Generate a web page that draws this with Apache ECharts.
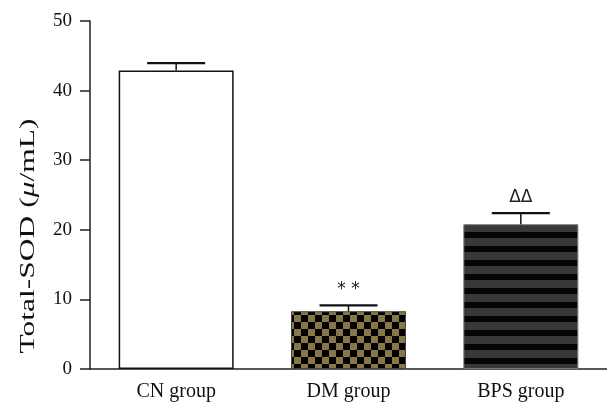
<!DOCTYPE html>
<html>
<head>
<meta charset="utf-8">
<script src="https://cdn.jsdelivr.net/npm/echarts@6/dist/echarts.min.js"></script>
<style>html,body{margin:0;padding:0;background:#fff;}#c{width:607px;height:409px;}</style>
</head>
<body>
<div id="c"></div>
<script>
const categories = ['CN group', 'DM group', 'BPS group'];
const means = [42.9, 8.3, 20.8];
const errors = [1.05, 0.85, 1.6];
const marks = ['', '* *', 'ΔΔ'];
const yTicks = [0, 10, 20, 30, 40, 50];

function checker() {
  const c = document.createElement('canvas');
  c.width = 14; c.height = 14;
  const g = c.getContext('2d');
  g.fillStyle = '#867745'; g.fillRect(0, 0, 14, 14);
  g.fillStyle = '#000'; g.fillRect(0, 0, 7, 7); g.fillRect(7, 7, 7, 7);
  return c;
}
function stripes() {
  const c = document.createElement('canvas');
  c.width = 4; c.height = 14;
  const g = c.getContext('2d');
  g.fillStyle = '#050505'; g.fillRect(0, 0, 4, 14);
  g.fillStyle = '#373838'; g.fillRect(0, 0, 4, 8);
  return c;
}
const fills = [
  { color: '#ffffff', borderColor: '#111', borderWidth: 1.5 },
  { color: { image: checker(), repeat: 'repeat' }, borderColor: '#444', borderWidth: 1 },
  { color: { image: stripes(), repeat: 'repeat' }, borderColor: '#777', borderWidth: 1 }
];

const chart = echarts.init(document.getElementById('c'), null, { renderer: 'canvas' });
const serif = 'Liberation Serif';
chart.setOption({
  animation: false,
  backgroundColor: '#fff',
  grid: { left: 90, top: 21, width: 519, height: 348, containLabel: false },
  xAxis: {
    type: 'category',
    data: categories,
    axisLine: { lineStyle: { color: '#222', width: 1.5 } },
    axisTick: { alignWithLabel: true, length: 9, lineStyle: { color: '#222', width: 1.5 } },
    axisLabel: { color: '#111', fontFamily: serif, fontSize: 20, margin: 13 },
    splitLine: { show: false }
  },
  yAxis: {
    type: 'value', min: 0, max: 50, interval: 10,
    axisLine: { show: true, lineStyle: { color: '#222', width: 1.5 } },
    axisTick: { show: true, length: 10, lineStyle: { color: '#222', width: 1.5 } },
    axisLabel: { color: '#111', fontFamily: serif, fontSize: 19, margin: 18,
      formatter: v => yTicks.includes(v) ? String(v) : '' },
    splitLine: { show: false }
  },
  graphic: [{
    type: 'text',
    x: 28, y: 236, rotation: Math.PI / 2, scaleX: 1.5,
    style: {
      text: 'Total-SOD ({i|μ}/mL)',
      fontFamily: serif, fontSize: 21, fill: '#111',
      align: 'center', verticalAlign: 'middle',
      rich: { i: { fontStyle: 'italic', fontFamily: serif, fontSize: 21 } }
    }
  }],
  series: [{
    type: 'bar',
    barWidth: 115,
    data: means.map((v, i) => ({ value: v, itemStyle: fills[i] })),
    z: 2
  }, {
    type: 'custom',
    z: 3,
    data: means.map((v, i) => [i, v, errors[i], marks[i]]),
    renderItem: function (params, api) {
      const base = api.coord([api.value(0), api.value(1)]);
      const top = api.coord([api.value(0), api.value(1) + api.value(2)]);
      const half = 29;
      return {
        type: 'group',
        children: [
          { type: 'line', shape: { x1: base[0], y1: base[1], x2: base[0], y2: top[1] },
            style: { stroke: '#111', lineWidth: 1.5 } },
          { type: 'line', shape: { x1: base[0] - half, y1: top[1], x2: base[0] + half, y2: top[1] },
            style: { stroke: '#111', lineWidth: 2.2 } },
          { type: 'text', x: base[0], y: top[1] - 7,
            style: { text: marks[params.dataIndex], fontFamily: 'DejaVu Sans', fontSize: 17,
              fill: '#222', align: 'center', verticalAlign: 'bottom' } }
        ]
      };
    }
  }]
});
</script>
</body>
</html>
